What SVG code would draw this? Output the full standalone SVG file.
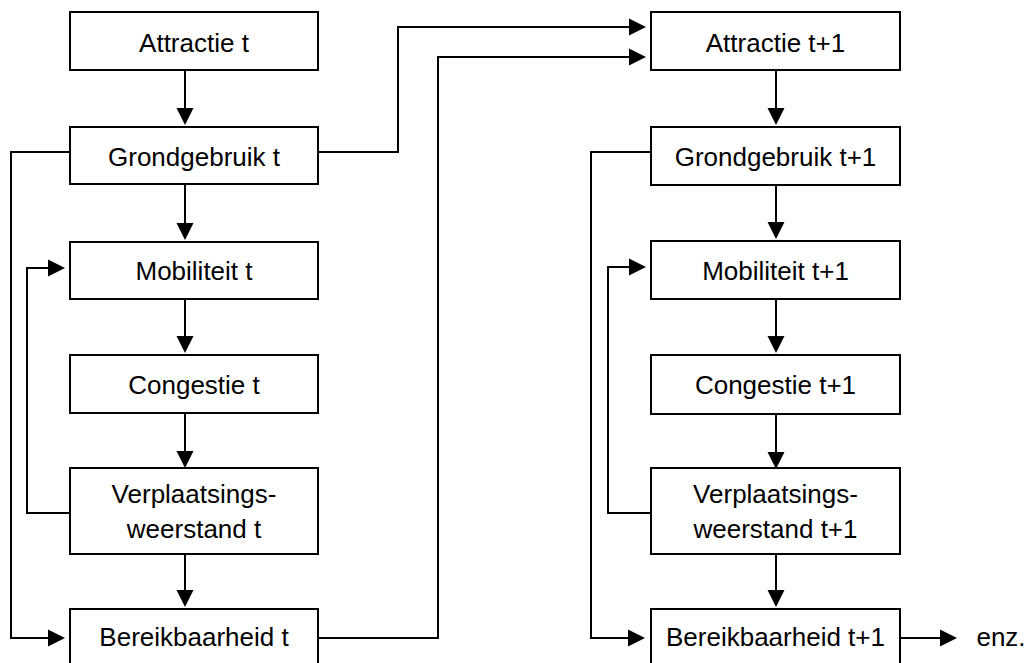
<svg xmlns="http://www.w3.org/2000/svg" width="1027" height="663" viewBox="0 0 1027 663">
<style>
.box{fill:#fff;stroke:#000;stroke-width:2}
.lbl{font-family:"Liberation Sans",Arial,sans-serif;font-size:26px;fill:#000;text-anchor:middle}
.c{fill:none;stroke:#000;stroke-width:2;marker-end:url(#ah)}
.p{fill:none;stroke:#000;stroke-width:2}
</style>
<defs>
<marker id="ah" markerUnits="userSpaceOnUse" markerWidth="18" markerHeight="18" refX="0" refY="8.5" orient="auto" overflow="visible">
<path d="M0,0 L17,8.5 L0,17 z" fill="#000"/>
</marker>
</defs>
<rect width="1027" height="663" fill="#fff"/>
<g id="connectors">
<path class="c" d="M185,70 V108"/>
<path class="c" d="M185,184 V223"/>
<path class="c" d="M185,299 V336"/>
<path class="c" d="M185,413 V451"/>
<path class="c" d="M185,554 V590"/>
<path class="c" d="M70,152 H11 V638 H48"/>
<path class="c" d="M70,513 H27 V268 H48"/>
<path class="c" d="M318,152 H398 V27 H629"/>
<path class="c" d="M318,638 H438 V57 H629"/>
<path class="c" d="M776,70 V108"/>
<path class="c" d="M776,185 V222"/>
<path class="c" d="M776,299 V336"/>
<path class="c" d="M776,414 V452"/>
<path class="c" d="M776,554 V590"/>
<path class="c" d="M651,152 H591 V638 H628"/>
<path class="c" d="M651,513 H608 V267 H629"/>
<path class="c" d="M900,638 H940"/>
</g>
<g id="attractie-t"><rect class="box" x="70" y="12" width="248" height="58"/><text class="lbl" x="194" y="51.5">Attractie t</text></g>
<g id="grondgebruik-t"><rect class="box" x="70" y="127" width="248" height="57"/><text class="lbl" x="194" y="165.5">Grondgebruik t</text></g>
<g id="mobiliteit-t"><rect class="box" x="70" y="242" width="248" height="57"/><text class="lbl" x="194" y="279.5">Mobiliteit t</text></g>
<g id="congestie-t"><rect class="box" x="70" y="355" width="248" height="58"/><text class="lbl" x="194" y="393.5">Congestie t</text></g>
<g id="verplaatsingsweerstand-t"><rect class="box" x="70" y="468" width="248" height="86"/><text class="lbl" x="194" y="503">Verplaatsings-</text><text class="lbl" x="194" y="538">weerstand t</text></g>
<g id="bereikbaarheid-t"><rect class="box" x="70" y="609" width="248" height="58"/><text class="lbl" x="194" y="646">Bereikbaarheid t</text></g>
<g id="attractie-t1"><rect class="box" x="651" y="12" width="249" height="58"/><text class="lbl" x="775.5" y="51.5">Attractie t+1</text></g>
<g id="grondgebruik-t1"><rect class="box" x="651" y="127" width="249" height="58"/><text class="lbl" x="775.5" y="165.5">Grondgebruik t+1</text></g>
<g id="mobiliteit-t1"><rect class="box" x="651" y="241" width="249" height="58"/><text class="lbl" x="775.5" y="279.5">Mobiliteit t+1</text></g>
<g id="congestie-t1"><rect class="box" x="651" y="355" width="249" height="59"/><text class="lbl" x="775.5" y="393.5">Congestie t+1</text></g>
<g id="verplaatsingsweerstand-t1"><rect class="box" x="651" y="468" width="249" height="86"/><text class="lbl" x="775.5" y="503">Verplaatsings-</text><text class="lbl" x="775.5" y="538">weerstand t+1</text></g>
<g id="bereikbaarheid-t1"><rect class="box" x="651" y="609" width="249" height="58"/><text class="lbl" x="775.5" y="646">Bereikbaarheid t+1</text></g>
<g id="enz"><text class="lbl" x="1001" y="646">enz.</text></g>
</svg>
